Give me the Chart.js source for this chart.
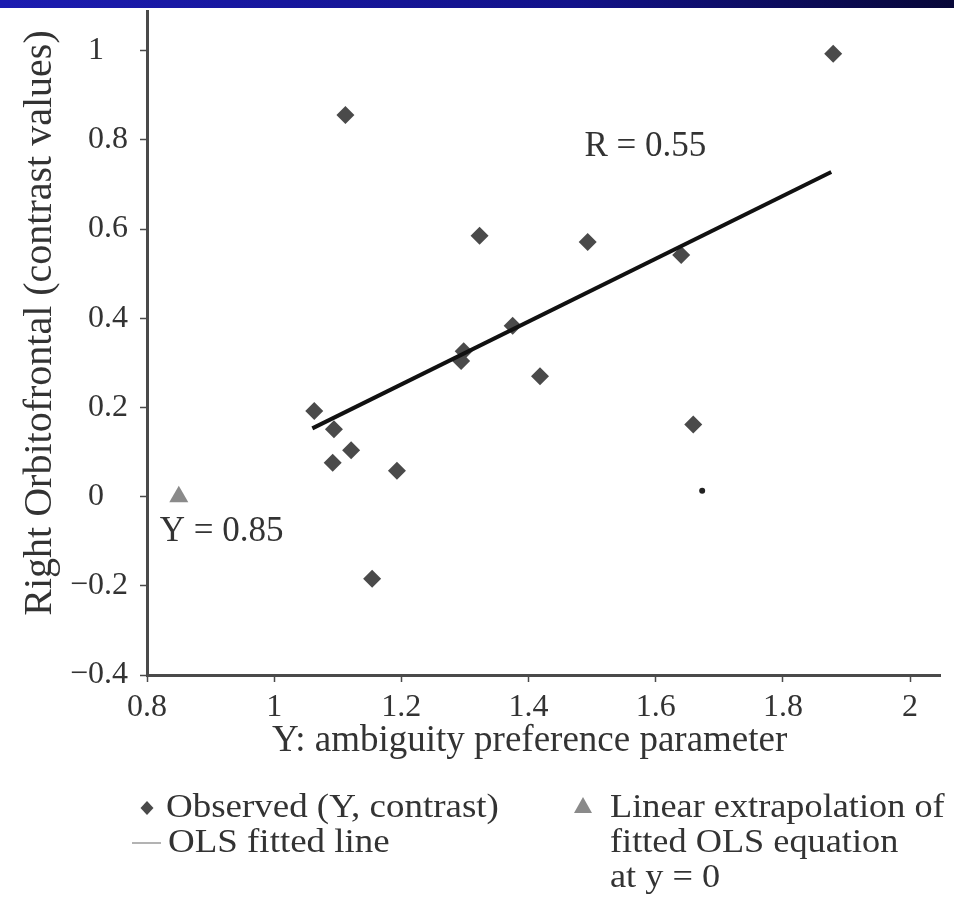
<!DOCTYPE html>
<html lang="en">
<head>
    <meta charset="UTF-8">
    <title>Right Orbitofrontal vs ambiguity preference</title>
    <script src="https://cdn.jsdelivr.net/npm/chart.js"></script>
    <style>
        html, body {
            margin: 0;
            padding: 0;
            background-color: white;
        }
        #wrap {
            position: relative;
            width: 954px;
            height: 913px;
        }
    </style>
</head>
<body>
    <div id="wrap">
        <canvas id="chart" width="954" height="913"></canvas>
    </div>

    <script>
        // observed (Y, contrast) pairs
        const obsX = [1.879, 1.112, 1.323, 1.493, 1.640, 1.375, 1.298, 1.294, 1.418, 1.063, 1.094, 1.121, 1.092, 1.193, 1.659, 1.154];
        const obsY = [0.993, 0.856, 0.585, 0.571, 0.542, 0.383, 0.326, 0.304, 0.270, 0.192, 0.151, 0.104, 0.076, 0.058, 0.162, -0.184];
        // the tiny dot near (1.67, 0.01)
        const dotX = [1.673];
        const dotY = [0.013];
        // ends of the OLS fitted line
        const fitX = [1.060, 1.876];
        const fitY = [0.153, 0.728];
        // extrapolated point at y = 0
        const extraX = [0.85];
        const extraY = [0];

        const xTicks = [0.8, 1, 1.2, 1.4, 1.6, 1.8, 2];
        const yTicks = [-0.4, -0.2, 0, 0.2, 0.4, 0.6, 0.8, 1];

        const serif = "'Liberation Serif', 'Times New Roman', serif";
        const ink = '#333';
        const axisColor = '#4a4a4a';

        function pts(xs, ys) {
            return xs.map((x, i) => ({ x: x, y: ys[i] }));
        }

        function fmt(v) {
            let s = String(Number(v.toFixed(1)));
            return s.replace('-', '\u2212');
        }

        // y labels line up on the decimal point like the figure
        function fmtY(v) {
            let s = fmt(v);
            if (s.indexOf('.') < 0) s += '\u2008\u2007';
            return s;
        }

        // fixed box sizes so the plot area sits where it does in the figure
        function fixY(scale) {
            scale.width = 147;
            scale.paddingTop = 0;
            scale.paddingBottom = 0;
        }
        function fixX(scale) {
            scale.height = 238;
            scale.paddingLeft = 0;
            scale.paddingRight = 0;
        }

        function wideText(ctx, text, x, y, sx) {
            ctx.save();
            ctx.translate(x, y);
            ctx.scale(sx, 1);
            ctx.fillText(text, 0, 0);
            ctx.restore();
        }

        const extras = {
            id: 'extras',
            afterDraw(chart) {
                const ctx = chart.ctx;
                const xs = chart.scales.x, ys = chart.scales.y;
                ctx.save();

                // text notes on the plot
                ctx.fillStyle = ink;
                ctx.font = '35px ' + serif;
                ctx.textBaseline = 'middle';
                ctx.textAlign = 'left';
                ctx.fillText('R = 0.55', xs.getPixelForValue(1.488), ys.getPixelForValue(0.785));
                ctx.fillText('Y = 0.85', xs.getPixelForValue(0.82), ys.getPixelForValue(-0.08));

                // legend
                ctx.fillStyle = '#4a4a4a';
                ctx.beginPath();
                ctx.moveTo(147, 801); ctx.lineTo(153.5, 808); ctx.lineTo(147, 815); ctx.lineTo(140.5, 808);
                ctx.closePath();
                ctx.fill();
                ctx.strokeStyle = '#9a9a9a';
                ctx.lineWidth = 1.5;
                ctx.beginPath();
                ctx.moveTo(132, 843); ctx.lineTo(161, 843);
                ctx.stroke();
                ctx.fillStyle = '#8a8a8a';
                ctx.beginPath();
                ctx.moveTo(583, 797); ctx.lineTo(592, 813); ctx.lineTo(574, 813);
                ctx.closePath();
                ctx.fill();

                ctx.fillStyle = ink;
                ctx.font = '33px ' + serif;
                wideText(ctx, 'Observed (Y, contrast)', 166, 808, 1.12);
                wideText(ctx, 'OLS fitted line', 168, 843, 1.12);
                wideText(ctx, 'Linear extrapolation of', 610, 808, 1.1);
                wideText(ctx, 'fitted OLS equation', 610, 843, 1.1);
                wideText(ctx, 'at y = 0', 610, 878, 1.1);

                // slide banner across the top
                const g = ctx.createLinearGradient(0, 0, 954, 0);
                g.addColorStop(0, '#1c1cb0');
                g.addColorStop(0.6, '#12128a');
                g.addColorStop(1, '#070738');
                ctx.fillStyle = g;
                ctx.fillRect(0, 0, 954, 8);
                ctx.restore();
            }
        };

        const ctx = document.getElementById('chart').getContext('2d');
        new Chart(ctx, {
            type: 'scatter',
            data: {
                datasets: [
                    {
                        label: 'OLS fitted line',
                        type: 'line',
                        data: pts(fitX, fitY),
                        borderColor: '#111',
                        borderWidth: 4,
                        pointRadius: 0,
                        fill: false
                    },
                    {
                        label: 'Observed (Y, contrast)',
                        data: pts(obsX, obsY),
                        pointStyle: 'rectRot',
                        pointRadius: 9,
                        backgroundColor: '#4a4a4a',
                        borderColor: '#4a4a4a',
                        borderWidth: 0
                    },
                    {
                        label: 'dot',
                        data: pts(dotX, dotY),
                        pointStyle: 'circle',
                        pointRadius: 3,
                        backgroundColor: '#222',
                        borderWidth: 0
                    },
                    {
                        label: 'Linear extrapolation of fitted OLS equation at y = 0',
                        data: pts(extraX, extraY),
                        pointStyle: 'triangle',
                        pointRadius: 11,
                        backgroundColor: '#8a8a8a',
                        borderColor: '#8a8a8a',
                        borderWidth: 0
                    }
                ]
            },
            options: {
                responsive: false,
                animation: false,
                layout: { padding: { left: 0, right: 14, top: 8, bottom: 0 } },
                plugins: {
                    legend: { display: false },
                    tooltip: { enabled: false }
                },
                scales: {
                    x: {
                        type: 'linear',
                        min: 0.8,
                        max: 2.047,
                        afterFit: fixX,
                        afterBuildTicks: s => { s.ticks = xTicks.map(v => ({ value: v })); },
                        border: { display: true, color: axisColor, width: 3 },
                        grid: { display: true, drawOnChartArea: false, drawTicks: true, tickLength: 7, tickWidth: 1.5, color: axisColor },
                        ticks: {
                            padding: 6,
                            color: ink,
                            font: { family: serif, size: 32 },
                            maxRotation: 0,
                            callback: v => fmt(v)
                        },
                        title: {
                            display: true,
                            text: 'Y: ambiguity preference parameter   ',
                            color: ink,
                            font: { family: serif, size: 37 },
                            padding: { top: 0, bottom: 150 }
                        }
                    },
                    y: {
                        type: 'linear',
                        min: -0.4,
                        max: 1.089,
                        afterFit: fixY,
                        afterBuildTicks: s => { s.ticks = yTicks.map(v => ({ value: v })); },
                        border: { display: true, color: axisColor, width: 3 },
                        grid: { display: true, drawOnChartArea: false, drawTicks: true, tickLength: 7, tickWidth: 1.5, color: axisColor },
                        ticks: {
                            padding: 12,
                            color: ink,
                            font: { family: serif, size: 32 },
                            callback: v => fmtY(v)
                        },
                        title: {
                            display: true,
                            text: '    Right Orbitofrontal (contrast values)',
                            color: ink,
                            font: { family: serif, size: 40 },
                            padding: { top: 16, bottom: 0 }
                        }
                    }
                }
            },
            plugins: [extras]
        });
    </script>
</body>
</html>
